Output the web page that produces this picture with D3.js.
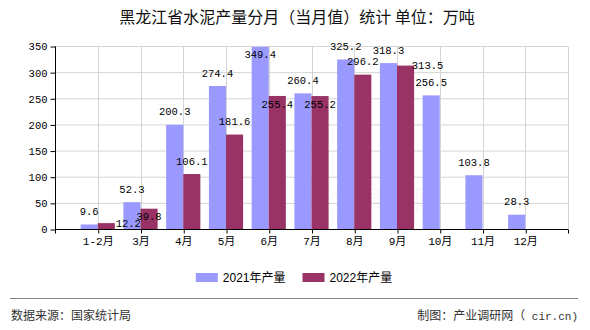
<!DOCTYPE html>
<html>
<head>
<meta charset="utf-8">
<script src="https://cdn.jsdelivr.net/npm/d3@7"></script>
<style>
  html, body { margin: 0; padding: 0; background: #fff; }
  svg { display: block; }
</style>
</head>
<body>
<svg id="chart" width="590" height="330"></svg>
<script>
// Monthly cement output, Heilongjiang (10k tonnes)
const categories = ["1-2月", "3月", "4月", "5月", "6月", "7月", "8月", "9月", "10月", "11月", "12月"];
const output2021 = [9.6, 52.3, 200.3, 274.4, 349.4, 260.4, 325.2, 318.3, 256.5, 103.8, 28.3];
const output2022 = [12.2, 39.8, 106.1, 181.6, 255.4, 255.2, 296.2, 313.5];
const yTicks = [0, 50, 100, 150, 200, 250, 300, 350];
const seriesNames = ["2021年产量", "2022年产量"];
const seriesColors = ["#9999ff", "#993366"];

const titleText = "黑龙江省水泥产量分月（当月值）统计 单位：万吨";
const sourceText = "数据来源：国家统计局";
const creditText = "制图：产业调研网（";
const creditSite = " cir.cn)";

const plot = { left: 55, right: 568, top: 46.5, bottom: 229.5 };
const monoFont = "'Liberation Mono', 'Noto Sans CJK SC', monospace";
const cjkFont = "'Noto Sans CJK SC', 'Liberation Sans', sans-serif";

const svg = d3.select("#chart");

// one empty slot before the first month and one after the last
const slot = (plot.right - plot.left) / (categories.length + 1);
const x = d3.scalePoint()
  .domain(categories)
  .range([plot.left + slot, plot.right - slot]);
const y = d3.scaleLinear().domain([0, 350]).range([plot.bottom, plot.top]);
const barW = slot * 0.4;

// faint watermark
svg.append("text")
  .attr("x", 373).attr("y", 210)
  .attr("text-anchor", "middle")
  .attr("font-family", cjkFont)
  .attr("font-size", 27)
  .attr("fill", "#c8a0b0")
  .attr("opacity", 0.08)
  .text("产业调研网");

// horizontal grid
svg.append("g")
  .selectAll("line")
  .data(yTicks)
  .join("line")
  .attr("x1", plot.left).attr("x2", plot.right)
  .attr("y1", d => y(d)).attr("y2", d => y(d))
  .attr("stroke", "#d4d4d4").attr("stroke-width", 1);

// vertical grid at each month plus the right border
const vLines = categories.map(c => x(c)).concat([plot.right]);
svg.append("g")
  .selectAll("line")
  .data(vLines)
  .join("line")
  .attr("x1", d => Math.round(d) + 0.5).attr("x2", d => Math.round(d) + 0.5)
  .attr("y1", plot.top).attr("y2", plot.bottom)
  .attr("stroke", "#d4d4d4").attr("stroke-width", 1);

// bars
const bars2021 = output2021.map((v, i) => ({
  series: 0, i, v,
  x0: x(categories[i]) - barW, x1: x(categories[i]),
  top: y(v)
}));
const bars2022 = output2022.map((v, i) => ({
  series: 1, i, v,
  x0: x(categories[i]), x1: x(categories[i]) + barW,
  top: y(v)
}));
const allBars = bars2021.concat(bars2022);

svg.append("g")
  .selectAll("rect")
  .data(allBars)
  .join("rect")
  .attr("x", d => d.x0)
  .attr("y", d => d.top)
  .attr("width", barW)
  .attr("height", d => y(0) - d.top)
  .attr("fill", d => seriesColors[d.series]);

// axes
const yAxis = d3.axisLeft(y).tickValues(yTicks).tickSize(5).tickPadding(3).tickFormat(d3.format("d"));
const gy = svg.append("g").attr("transform", `translate(${plot.left + 0.5},0)`).call(yAxis);
gy.select(".domain").attr("stroke", "#000").attr("d", `M0,${plot.top}V${plot.bottom}`);
gy.selectAll(".tick line").attr("stroke", "#000");
gy.selectAll(".tick text")
  .attr("font-family", monoFont).attr("font-size", 10.5).attr("fill", "#000");

const xAxis = d3.axisBottom(x).tickSize(4).tickPadding(4);
const gx = svg.append("g").attr("transform", `translate(0,${plot.bottom})`).call(xAxis);
gx.select(".domain").attr("stroke", "#000").attr("d", `M${plot.left},0H${plot.right}`);
gx.selectAll(".tick line").attr("stroke", "#000").attr("x1", 0.5).attr("x2", 0.5);
gx.selectAll(".tick text")
  .attr("font-family", monoFont).attr("font-size", 11).attr("fill", "#000");
// end ticks at both plot edges
[plot.left, plot.right].forEach(px => {
  gx.append("line")
    .attr("x1", Math.round(px) + 0.5).attr("x2", Math.round(px) + 0.5)
    .attr("y1", 0).attr("y2", 4).attr("stroke", "#000");
});

// value labels with simple collision handling
const charW = 6.3, halfH = 5;
const boxOf = (cx, cy, text) => ({
  x0: cx - text.length * charW / 2, x1: cx + text.length * charW / 2,
  y0: cy - halfH, y1: cy + halfH
});
const overlaps = (a, b) => a.x0 < b.x1 && b.x0 < a.x1 && a.y0 < b.y1 && b.y0 < a.y1;
const placed = [];

bars2021.forEach(b => {
  const t = String(b.v);
  const cx = (b.x0 + b.x1) / 2;
  let cy = b.top - 13;
  if (cy < plot.top - 2) cy = b.top + 8;
  placed.push({ text: t, cx, cy, box: boxOf(cx, cy, t) });
});

bars2022.forEach(b => {
  const t = String(b.v);
  const cx = (b.x0 + b.x1) / 2;
  const hitsLabel = bx => placed.some(p => overlaps(p.box, bx));
  const hitsBar = bx => allBars.some(o => o !== b &&
    overlaps({ x0: o.x0, x1: o.x1, y0: o.top, y1: y(0) }, bx));
  const above = { cx, cy: b.top - 13 };
  const right = { cx: cx + 22, cy: b.top };
  const inside = { cx, cy: b.top + 8 };
  let pos;
  if (!hitsLabel(boxOf(above.cx, above.cy, t))) pos = above;
  else if (!hitsLabel(boxOf(right.cx, right.cy, t)) && !hitsBar(boxOf(right.cx, right.cy, t))) pos = right;
  else if (inside.cy + halfH <= plot.bottom) pos = inside;
  else pos = right;
  placed.push({ text: t, cx: pos.cx, cy: pos.cy, box: boxOf(pos.cx, pos.cy, t) });
});

svg.append("g")
  .selectAll("text")
  .data(placed)
  .join("text")
  .attr("x", d => d.cx)
  .attr("y", d => d.cy)
  .attr("dy", "0.35em")
  .attr("text-anchor", "middle")
  .attr("font-family", monoFont)
  .attr("font-size", 10.5)
  .attr("fill", "#000")
  .text(d => d.text);

// title
svg.append("text")
  .attr("x", 297).attr("y", 23)
  .attr("text-anchor", "middle")
  .attr("font-family", cjkFont)
  .attr("font-size", 16)
  .attr("fill", "#111")
  .text(titleText);

// legend, centred under the plot
const legend = svg.append("g");
const items = legend.selectAll("g").data(seriesNames).join("g");
items.append("rect")
  .attr("width", 22).attr("height", 9)
  .attr("y", 273)
  .attr("fill", (d, i) => seriesColors[i]);
items.append("text")
  .attr("x", 27).attr("y", 278).attr("dy", "0.35em")
  .attr("font-family", "'Liberation Sans', 'Noto Sans CJK SC', sans-serif")
  .attr("font-size", 12)
  .attr("fill", "#000")
  .text(d => d);
let lx = 0;
items.each(function () {
  d3.select(this).attr("transform", `translate(${lx},0)`);
  lx += 27 + this.querySelector("text").getComputedTextLength() + 17;
});
const legendW = lx - 17;
legend.attr("transform", `translate(${294 - legendW / 2},0)`);

// divider and footer
svg.append("line")
  .attr("x1", 10).attr("x2", 578)
  .attr("y1", 298.5).attr("y2", 298.5)
  .attr("stroke", "#888").attr("stroke-width", 1.2);

svg.append("text")
  .attr("x", 11).attr("y", 320)
  .attr("font-family", cjkFont)
  .attr("font-size", 12)
  .attr("fill", "#333")
  .text(sourceText);

const credit = svg.append("text")
  .attr("x", 578).attr("y", 320)
  .attr("text-anchor", "end")
  .attr("font-family", cjkFont)
  .attr("font-size", 12)
  .attr("fill", "#333");
credit.append("tspan").text(creditText);
credit.append("tspan")
  .attr("font-family", monoFont)
  .attr("font-size", 11)
  .attr("xml:space", "preserve")
  .style("white-space", "pre")
  .text(creditSite);
</script>
</body>
</html>
